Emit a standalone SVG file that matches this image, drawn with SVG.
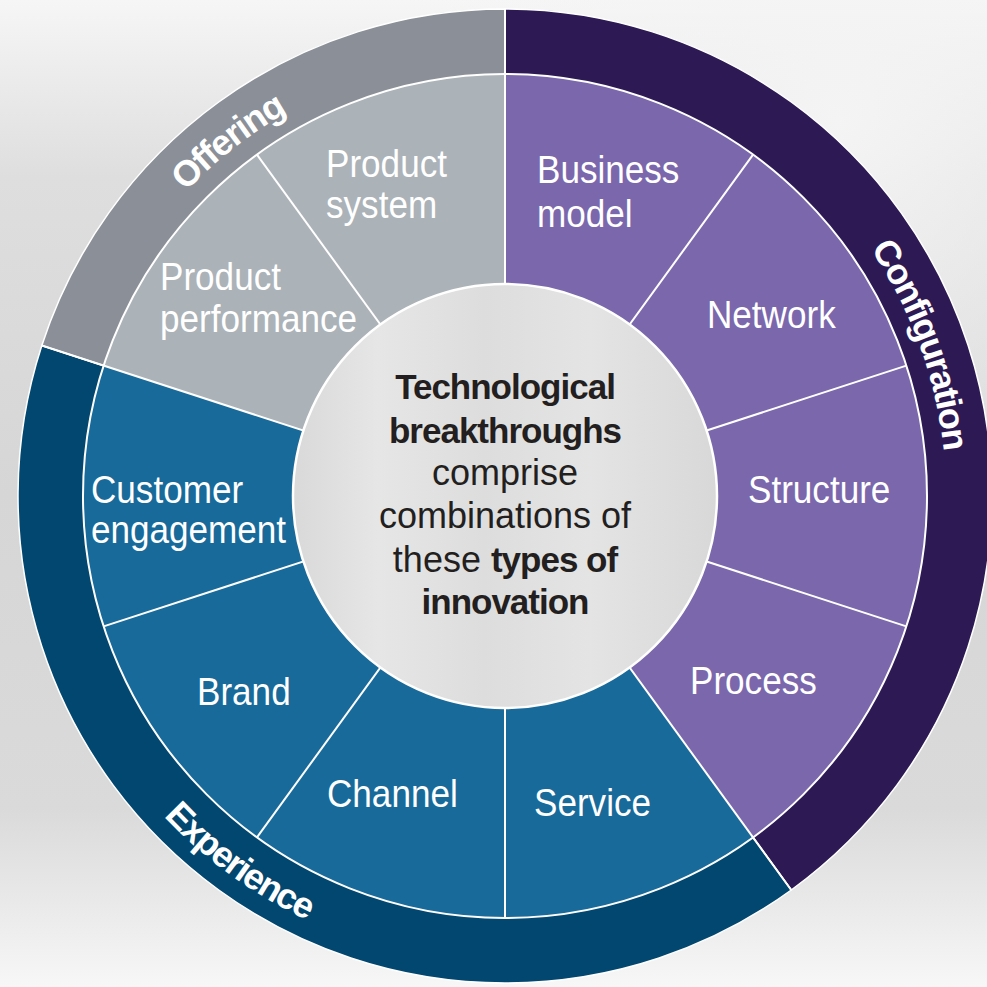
<svg xmlns="http://www.w3.org/2000/svg" width="987" height="987" viewBox="0 0 987 987">
  <defs>
    <linearGradient id="bg" x1="0" y1="0" x2="0" y2="1">
      <stop offset="0" stop-color="#f6f6f6"/>
      <stop offset="0.18" stop-color="#dedede"/>
      <stop offset="0.5" stop-color="#d6d6d6"/>
      <stop offset="0.82" stop-color="#dadada"/>
      <stop offset="1" stop-color="#f7f7f7"/>
    </linearGradient>
    <radialGradient id="bgglow" cx="0.85" cy="0.12" r="0.45">
      <stop offset="0" stop-color="#f4f4f4" stop-opacity="1"/>
      <stop offset="1" stop-color="#f4f4f4" stop-opacity="0"/>
    </radialGradient>
    <linearGradient id="hub" x1="0" y1="0" x2="1" y2="0">
      <stop offset="0" stop-color="#d9d9d9"/>
      <stop offset="0.2" stop-color="#e6e6e6"/>
      <stop offset="0.45" stop-color="#dddddd"/>
      <stop offset="0.7" stop-color="#e4e4e4"/>
      <stop offset="1" stop-color="#d8d8d8"/>
    </linearGradient>
    <path id="arcOffering" d="M85.58,359.72 A441,441 0 0 1 505,55"/>
    <path id="arcConfiguration" d="M505,55 A441,441 0 0 1 764.21,852.78"/>
    <path id="arcExperience" d="M59.91,351.38 A468,468 0 0 0 780.08,874.62"/>
  </defs>
  <style>
    .cat { stroke: #ffffff; stroke-width: 1.5; }
    .seg { stroke: none; }
    .off-o { fill: #8b9098; }
    .cfg-o { fill: #2d1a55; }
    .exp-o { fill: #02476f; }
    .off-s { fill: #abb2b8; }
    .cfg-s { fill: #7b67ac; }
    .exp-s { fill: #176a9a; }
    .lbl { font-family: "Liberation Sans", Arial, sans-serif; font-size: 39px; fill: #ffffff; }
    .catlbl { font-family: "Liberation Sans", Arial, sans-serif; font-size: 36px; font-weight: bold; letter-spacing: -1.5px; fill: #ffffff; }
    .div { stroke: #ffffff; stroke-width: 2; fill: none; }
    .hubtxt { font-family: "Liberation Sans", Arial, sans-serif; font-size: 36px; fill: #231f20; text-anchor: middle; }
    .b { font-weight: bold; font-size: 35px; letter-spacing: -1px; }
  </style>

  <rect x="0" y="0" width="987" height="987" fill="url(#bg)"/>
  <rect x="0" y="0" width="987" height="987" fill="url(#bgglow)"/>

  <!-- Outer category ring -->
  <g id="cat-configuration">
    <path class="cat cfg-o" d="M505,496 L505,9 A487,487 0 0 1 791.25,889.99 Z"/>
  </g>
  <g id="cat-experience">
    <path class="cat exp-o" d="M505,496 L791.25,889.99 A487,487 0 0 1 41.83,345.51 Z"/>
  </g>
  <g id="cat-offering">
    <path class="cat off-o" d="M505,496 L41.83,345.51 A487,487 0 0 1 505,9 Z"/>
  </g>

  <!-- Segments -->
  <g id="seg-business-model">
    <path class="seg cfg-s" d="M505,496 L505,74 A422,422 0 0 1 753.05,154.60 Z"/>
  </g>
  <g id="seg-network">
    <path class="seg cfg-s" d="M505,496 L753.05,154.60 A422,422 0 0 1 906.35,365.59 Z"/>
  </g>
  <g id="seg-structure">
    <path class="seg cfg-s" d="M505,496 L906.35,365.59 A422,422 0 0 1 906.35,626.41 Z"/>
  </g>
  <g id="seg-process">
    <path class="seg cfg-s" d="M505,496 L906.35,626.41 A422,422 0 0 1 753.05,837.40 Z"/>
  </g>
  <g id="seg-service">
    <path class="seg exp-s" d="M505,496 L753.05,837.40 A422,422 0 0 1 505,918 Z"/>
  </g>
  <g id="seg-channel">
    <path class="seg exp-s" d="M505,496 L505,918 A422,422 0 0 1 256.95,837.40 Z"/>
  </g>
  <g id="seg-brand">
    <path class="seg exp-s" d="M505,496 L256.95,837.40 A422,422 0 0 1 103.65,626.41 Z"/>
  </g>
  <g id="seg-customer-engagement">
    <path class="seg exp-s" d="M505,496 L103.65,626.41 A422,422 0 0 1 103.65,365.59 Z"/>
  </g>
  <g id="seg-product-performance">
    <path class="seg off-s" d="M505,496 L103.65,365.59 A422,422 0 0 1 256.95,154.60 Z"/>
  </g>
  <g id="seg-product-system">
    <path class="seg off-s" d="M505,496 L256.95,154.60 A422,422 0 0 1 505,74 Z"/>
  </g>

  <!-- Dividers (connectors group) -->
  <g id="connectors">
    <circle class="div" cx="505" cy="496" r="422"/>
    <line class="div" x1="505" y1="496" x2="505" y2="9"/>
    <line class="div" x1="505" y1="496" x2="753.05" y2="154.60"/>
    <line class="div" x1="505" y1="496" x2="906.35" y2="365.59"/>
    <line class="div" x1="505" y1="496" x2="906.35" y2="626.41"/>
    <line class="div" x1="505" y1="496" x2="791.25" y2="889.99"/>
    <line class="div" x1="505" y1="496" x2="505" y2="918"/>
    <line class="div" x1="505" y1="496" x2="256.95" y2="837.40"/>
    <line class="div" x1="505" y1="496" x2="103.65" y2="626.41"/>
    <line class="div" x1="505" y1="496" x2="41.83" y2="345.51"/>
    <line class="div" x1="505" y1="496" x2="256.95" y2="154.60"/>
  </g>

  <!-- Segment labels -->
  <g id="labels">
    <text class="lbl" transform="translate(326,177) scale(0.9,1)">Product</text>
    <text class="lbl" transform="translate(326,218) scale(0.9,1)">system</text>
    <text class="lbl" transform="translate(537,183) scale(0.9,1)">Business</text>
    <text class="lbl" transform="translate(537,227) scale(0.9,1)">model</text>
    <text class="lbl" transform="translate(707,328) scale(0.9,1)">Network</text>
    <text class="lbl" transform="translate(748,503) scale(0.9,1)">Structure</text>
    <text class="lbl" transform="translate(690,694) scale(0.9,1)">Process</text>
    <text class="lbl" transform="translate(534,816) scale(0.9,1)">Service</text>
    <text class="lbl" transform="translate(327,807) scale(0.9,1)">Channel</text>
    <text class="lbl" transform="translate(197,705) scale(0.9,1)">Brand</text>
    <text class="lbl" transform="translate(91,503) scale(0.9,1)">Customer</text>
    <text class="lbl" transform="translate(91,543) scale(0.9,1)">engagement</text>
    <text class="lbl" transform="translate(160,290) scale(0.9,1)">Product</text>
    <text class="lbl" transform="translate(160,332) scale(0.9,1)">performance</text>
  </g>

  <!-- Category labels -->
  <g id="category-labels">
    <text class="catlbl"><textPath href="#arcOffering" startOffset="47.2%" text-anchor="middle">Offering</textPath></text>
    <text class="catlbl"><textPath href="#arcConfiguration" startOffset="48.6%" text-anchor="middle">Configuration</textPath></text>
    <text class="catlbl"><textPath href="#arcExperience" startOffset="50%" text-anchor="middle">Experience</textPath></text>
  </g>

  <!-- Hub -->
  <g id="hub">
    <circle cx="505" cy="496" r="212" fill="url(#hub)" stroke="#ffffff" stroke-width="2.5"/>
    <text class="hubtxt b" x="505" y="399">Technological</text>
    <text class="hubtxt b" x="505" y="443">breakthroughs</text>
    <text class="hubtxt" x="505" y="485">comprise</text>
    <text class="hubtxt" x="505" y="528">combinations of</text>
    <text class="hubtxt" x="505" y="572">these <tspan class="b">types of</tspan></text>
    <text class="hubtxt b" x="505" y="614">innovation</text>
  </g>
</svg>
